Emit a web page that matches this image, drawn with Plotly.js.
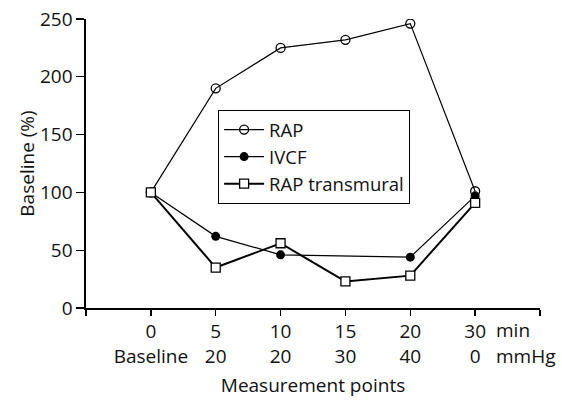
<!DOCTYPE html>
<html>
<head>
<meta charset="utf-8">
<script src="https://cdn.plot.ly/plotly-3.0.1.min.js"></script>
<style>html,body{margin:0;padding:0;background:#fff;}#chart{width:562px;height:400px;}</style>
</head>
<body>
<div id="chart"></div>
<script>
const minutes = ['0', '5', '10', '15', '20', '30'];
const pressures = ['Baseline', '20', '20', '30', '40', '0'];
const rap = [100, 190, 225, 232, 246, 101];
const ivcf = [100, 62, 46, null, 44, 97];
const rapTransmural = [100, 35, 56, 23, 28, 91];

const xs = minutes.map((_, i) => i);
const font = {family: 'Open Sans, Noto Sans, sans-serif', size: 19, color: '#111'};
const legFont = {family: 'Open Sans, Noto Sans, sans-serif', size: 18.5, color: '#111'};

const traces = [
  {x: xs, y: rap, name: 'RAP', mode: 'lines+markers', line: {color: '#000', width: 1.2},
   marker: {symbol: 'circle-open', size: 9, color: '#000', line: {width: 1.3}}},
  {x: xs, y: ivcf, name: 'IVCF', mode: 'lines+markers', connectgaps: true, line: {color: '#000', width: 1.2},
   marker: {symbol: 'circle', size: 9, color: '#000'}},
  {x: xs, y: rapTransmural, name: 'RAP transmural', mode: 'lines+markers', line: {color: '#000', width: 2},
   marker: {symbol: 'square', size: 9, color: '#fff', line: {color: '#000', width: 1.3}}}
];

const tickvals = [-1].concat(xs).concat([xs.length]);
const ticktext = [''].concat(minutes.map((m, i) => m + '<br>' + pressures[i])).concat(['']);

const layout = {
  width: 562, height: 400,
  margin: {l: 86, r: 22, t: 19, b: 92.3},
  paper_bgcolor: '#fff', plot_bgcolor: '#fff',
  font: font,
  showlegend: true,
  legend: {x: 0.291, y: 0.685, xanchor: 'left', yanchor: 'top', bordercolor: '#000', borderwidth: 1,
           font: legFont, bgcolor: '#fff', tracegroupgap: 0, itemwidth: 40},
  xaxis: {
    range: [-1, xs.length], tickmode: 'array', tickvals: tickvals, ticktext: ticktext,
    showline: true, linecolor: '#000', linewidth: 1.6, ticks: 'outside', ticklen: 6, tickwidth: 1.3, tickcolor: '#000',
    showgrid: false, zeroline: false, tickfont: font,
    title: {text: 'Measurement points', font: font, standoff: 10}
  },
  yaxis: {
    range: [0, 250], tickmode: 'array', tickvals: [0, 50, 100, 150, 200, 250],
    showline: true, linecolor: '#000', linewidth: 1.6, ticks: 'outside', ticklen: 8, tickwidth: 1.3, tickcolor: '#000',
    showgrid: false, zeroline: false, tickfont: font,
    title: {text: 'Baseline (%)', font: font, standoff: 0}
  },
  annotations: [
    {text: 'min', xref: 'paper', yref: 'paper', x: 0.898, y: -0.075, xanchor: 'left', yanchor: 'middle', showarrow: false, font: font},
    {text: 'mmHg', xref: 'paper', yref: 'paper', x: 0.898, y: -0.165, xanchor: 'left', yanchor: 'middle', showarrow: false, font: font}
  ]
};

Plotly.newPlot('chart', traces, layout, {displayModeBar: false, staticPlot: true});
</script>
</body>
</html>
